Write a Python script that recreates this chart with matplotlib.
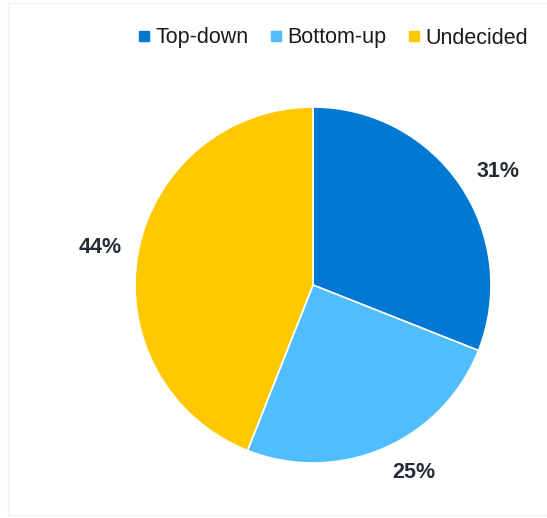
import matplotlib
matplotlib.use("Agg")
import matplotlib.pyplot as plt
from matplotlib.lines import Line2D
from matplotlib.patches import Rectangle

plt.rcParams['font.family'] = ['Liberation Sans', 'DejaVu Sans']

categories = ["Top-down", "Bottom-up", "Undecided"]
shares = [31, 25, 44]
colors = ["#0078d4", "#50bdff", "#ffc800"]

W, H = 547, 518
fig = plt.figure(figsize=(W / 100, H / 100), dpi=100)
fig.patch.set_facecolor("white")

# faint frame around the chart area
fig.add_artist(Rectangle((8 / W, 3 / H), (W - 8) / W, (H - 6) / H,
                         transform=fig.transFigure, fill=False,
                         edgecolor="#f2f2f2", linewidth=1.0))

cx, cy, r = 313, 285, 178
ax = fig.add_axes([(cx - r) / W, (H - cy - r) / H, 2 * r / W, 2 * r / H])
wedges, texts = ax.pie(
    shares, colors=colors, startangle=90, counterclock=False,
    labels=[f"{v}%" for v in shares], labeldistance=1.21,
    wedgeprops=dict(edgecolor="white", linewidth=1.2),
    textprops=dict(fontsize=15.5, fontweight="bold", color="#262c36"),
)
# outside label anchors (in pie radius units)
label_xy = [(1.039, 0.640), (0.567, -1.051), (-1.197, 0.213)]
for t, xy in zip(texts, label_xy):
    t.set_position(xy)
    t.set_ha("center")
    t.set_va("center")
ax.set_xlim(-1, 1)
ax.set_ylim(-1, 1)
ax.set_aspect("equal")
ax.axis("off")

handles = [Line2D([], [], marker="s", linestyle="none", markersize=6.5,
                  markerfacecolor=c, markeredgecolor=c) for c in colors]
fig.legend(handles, categories, loc="center right",
           bbox_to_anchor=(528 / W, 1 - 38 / H), ncol=3, frameon=False,
           fontsize=15.5, handlelength=0.5, handletextpad=0.3,
           columnspacing=1.0, borderaxespad=0, borderpad=0,
           labelcolor="#1a1a1a")

fig.savefig("out.png", dpi=100, facecolor="white")
